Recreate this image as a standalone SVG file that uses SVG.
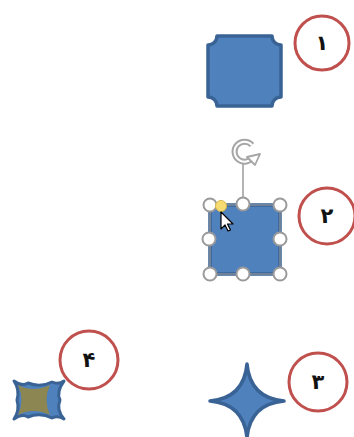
<svg xmlns="http://www.w3.org/2000/svg" width="354" height="437" viewBox="0 0 354 437">
<style>
.badge{fill:#fff;stroke:#c0504d;stroke-width:3}
.num{font-family:"DejaVu Sans",sans-serif;font-weight:bold;font-size:21px;fill:#111;text-anchor:middle;dominant-baseline:central}
.shape{fill:#4f81bd;stroke:#3a6395;stroke-width:3.5;stroke-linejoin:round}
.handle{fill:#fff;stroke:#9a9a9a;stroke-width:2}
</style>
<rect width="354" height="437" fill="#fff"/>
<g id="node1">
<path class="shape" d="M217 36 H272 A9 9 0 0 0 281 45 V97 A9 9 0 0 0 272 106 H217 A9 9 0 0 0 208 97 V45 A9 9 0 0 0 217 36 Z"/>
<circle class="badge" cx="322" cy="43" r="27"/>
<text class="num" x="322" y="43">۱</text>
</g>
<g id="node2">
<line x1="243" y1="163" x2="243" y2="199" stroke="#9a9a9a" stroke-width="1.5"/>
<path d="M252 145 A10 10 0 1 0 253 157" fill="none" stroke="#a6a6a6" stroke-width="6"/>
<path d="M252 145 A10 10 0 1 0 253 157" fill="none" stroke="#fff" stroke-width="2"/>
<path d="M247 157 L260 154 L255 165 Z" fill="#fff" stroke="#a6a6a6" stroke-width="1.8" stroke-linejoin="round"/>
<path class="shape" d="M214 205 H276 A4 4 0 0 0 280 209 V270 A4 4 0 0 0 276 274 H214 A4 4 0 0 0 210 270 V209 A4 4 0 0 0 214 205 Z"/>
<rect x="210" y="205" width="70" height="69" fill="none" stroke="#a0a0a0" stroke-width="1"/>
<circle class="handle" cx="210" cy="205" r="6.5"/>
<circle class="handle" cx="243" cy="204" r="6.5"/>
<circle class="handle" cx="280" cy="205" r="6.5"/>
<circle class="handle" cx="209" cy="239" r="6.5"/>
<circle class="handle" cx="280" cy="239" r="6.5"/>
<circle class="handle" cx="210" cy="274" r="6.5"/>
<circle class="handle" cx="243" cy="274" r="6.5"/>
<circle class="handle" cx="280" cy="274" r="6.5"/>
<circle cx="221" cy="206" r="5.5" fill="#f7dc74" stroke="#d8b84a" stroke-width="1"/>
<path d="M221 212 L221 229 L225 225 L228 231 L230.5 230 L227.5 224 L233 224 Z" fill="#fff" stroke="#000" stroke-width="1.2" stroke-linejoin="round"/>
<circle class="badge" cx="327" cy="216" r="28"/>
<text class="num" x="327" y="216">۲</text>
</g>
<g id="node3">
<path class="shape" d="M247 364 Q250 398 284 401 Q250 404 247 438 Q244 404 210 401 Q244 398 247 364 Z"/>
<circle class="badge" cx="318" cy="382" r="29"/>
<text class="num" x="318" y="382">۳</text>
</g>
<g id="node4">
<path d="M14 381 Q22 387 28 383 Q40 388 52 382 Q58 385 64 381 Q56 392 60 400 Q56 410 64 419 Q58 415 52 418 Q40 412 28 417 Q22 413 14 419 Q20 410 17 400 Q20 390 14 381 Z" fill="#4f81bd" stroke="#3a6395" stroke-width="3" stroke-linejoin="round"/>
<path d="M18 385 Q33 393 50 385 Q43 400 50 415 Q33 407 18 415 Q25 400 18 385 Z" fill="#8c8652"/>
<circle class="badge" cx="89" cy="360" r="29"/>
<text class="num" x="89" y="360">۴</text>
</g>
<g id="connectors"></g>
</svg>
